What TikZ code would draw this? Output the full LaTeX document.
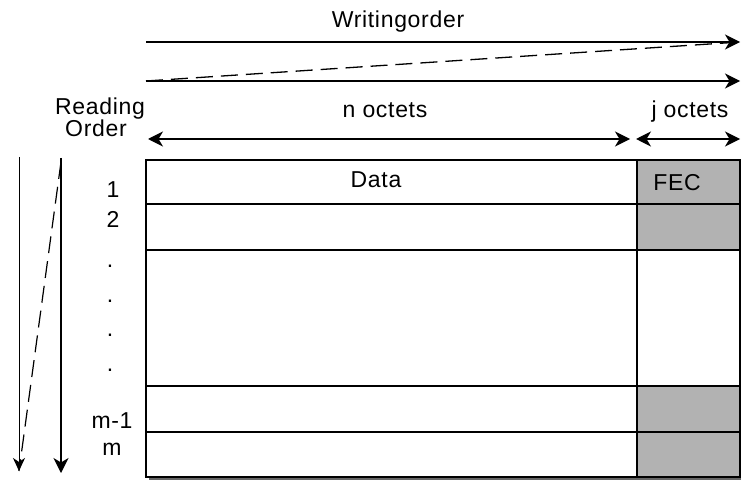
\documentclass[tikz,border=0pt]{standalone}
\usepackage{fontspec}
\setmainfont{Liberation Sans}[LetterSpace=3]
\usetikzlibrary{arrows.meta}

\begin{document}
\begin{tikzpicture}[x=1pt, y=-1pt, line width=1.3pt,
    >={Stealth[length=15pt,width=15pt,inset=4.5pt]},
    lbl/.style={font=\fontsize{23}{27}\selectfont, inner sep=0pt, anchor=base},
    fec/.style={fill=black!30, draw=none},
    back/.style={dash pattern=on 17pt off 8pt}]
    \useasboundingbox (0,0) rectangle (741,481);

    % Writing order
    \node[lbl] (worder) at (398,28) {Writingorder};
    \coordinate (wa) at (146,42);  \coordinate (wb) at (740,42);
    \coordinate (wc) at (146,81);  \coordinate (wd) at (740,81);
    \draw[->] (wa) -- (wb);
    \draw[back] (wc) -- (wb);
    \draw[->] (wc) -- (wd);

    % Widths of the two fields
    \node[lbl] (noct) at (385,118) {n octets};
    \node[lbl] (joct) at (690,118) {j octets};
    \coordinate (na) at (148,139); \coordinate (nb) at (630,139);
    \coordinate (ja) at (636,139); \coordinate (jb) at (740,139);
    \draw[<->] (na) -- (nb);
    \draw[<->] (ja) -- (jb);

    % Reading order
    \node[lbl] (read) at (100,115) {Reading};
    \node[lbl] (rord) at (96,137) {Order};
    \coordinate (ra) at (19,157);  \coordinate (rb) at (19,471);
    \coordinate (rc) at (61,158);  \coordinate (rd) at (61,473);
    \coordinate (re) at (61,162);
    \draw[-{Stealth[length=13pt,width=12pt,inset=4pt]}, line width=1pt] (ra) -- (rb);
    \draw[back, line width=1.2pt] (re) -- (rb);
    \draw[->, line width=1.5pt] (rc) -- (rd);

    % Frame: FEC cells first, then the grid
    \fill[black!60] (149,477) rectangle (741,480);
    \fill[fec] (637,160) rectangle (740,250);
    \fill[fec] (637,386) rectangle (740,477);
    \draw (146,160) rectangle (740,477);
    \foreach \y in {204,250,386,432}
        \draw (146,\y) -- (740,\y);
    \draw (637,160) -- (637,477);
    \node[lbl] (data) at (376,188) {Data};
    \node[lbl] (fec) at (677,190) {FEC};

    % Row numbers
    \node[lbl] (row1) at (113,197) {1};
    \node[lbl] (row2) at (113,227) {2};
    \foreach \y [count=\i] in {267,302,336,371}
        \node[lbl] (dot\i) at (110,\y) {.};
    \node[lbl] (rowm1) at (112,428) {m-1};
    \node[lbl] (rowm) at (112,455) {m};
\end{tikzpicture}
\end{document}
